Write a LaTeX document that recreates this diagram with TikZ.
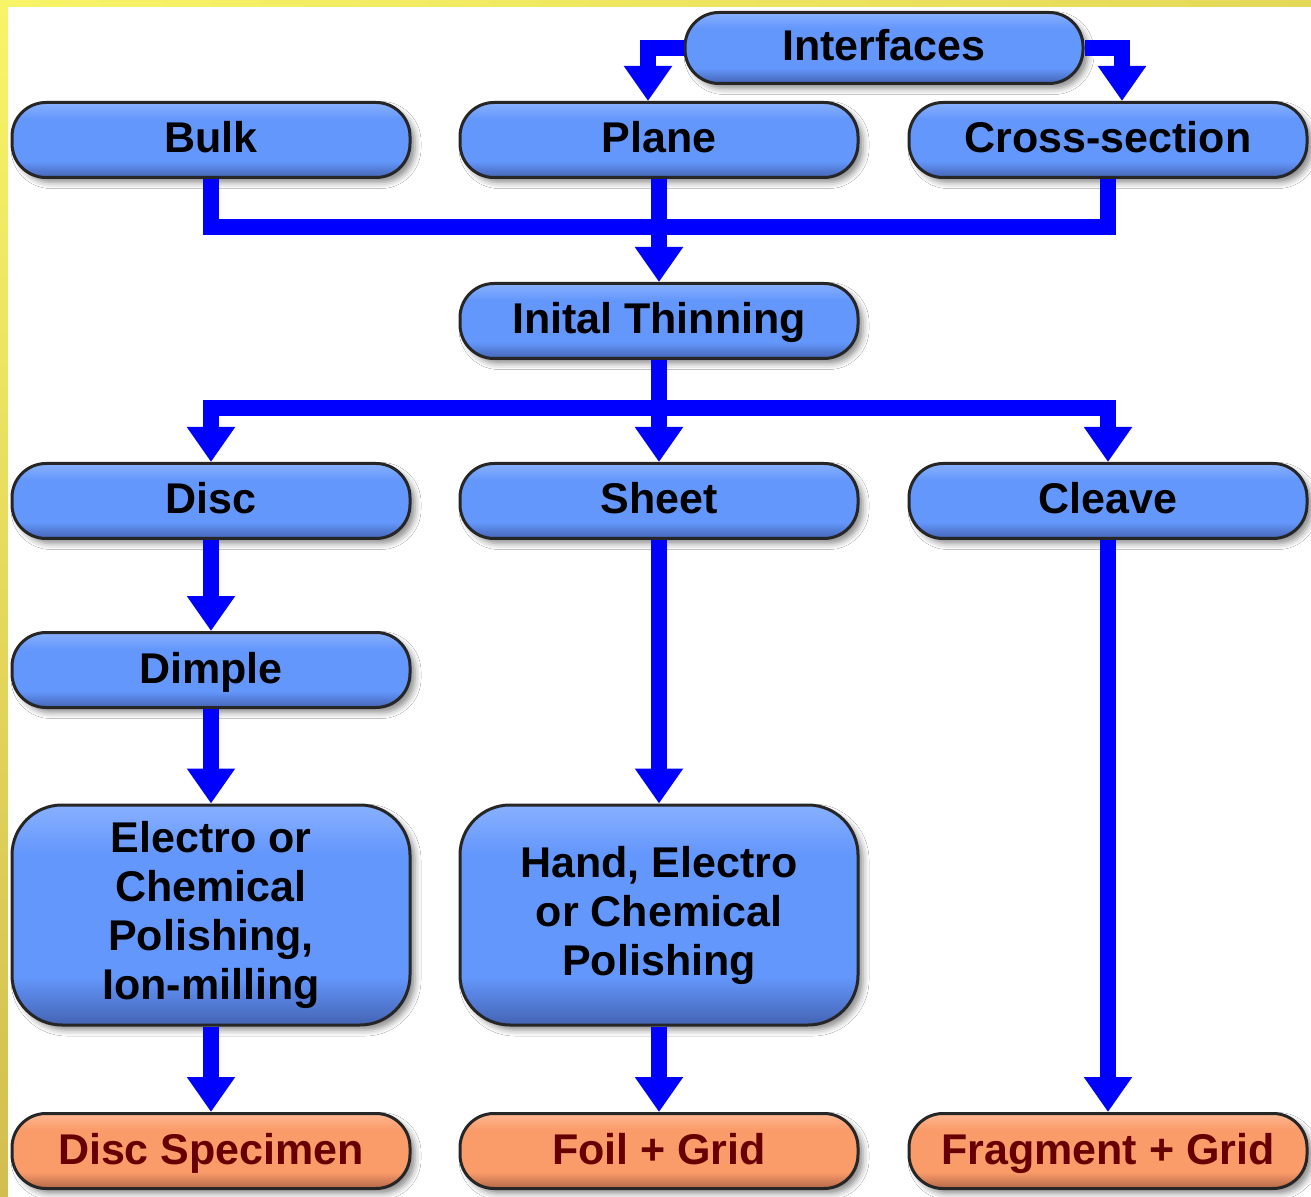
\documentclass[tikz,border=0pt]{standalone}
\usepackage{fontspec}
\setmainfont{Liberation Sans}
\usetikzlibrary{arrows.meta,shadows.blur}
\definecolor{lineblue}{HTML}{0000FF}
\definecolor{bluetop}{HTML}{88B0FF}
\definecolor{bluemid}{HTML}{6497FC}
\definecolor{bluebot}{HTML}{4464B4}
\definecolor{orgtop}{HTML}{FFB690}
\definecolor{orgmid}{HTML}{FA9B6A}
\definecolor{orgbot}{HTML}{B46848}
\definecolor{orgtext}{HTML}{660000}
\definecolor{yelA}{HTML}{F8F468}
\definecolor{yelB}{HTML}{E4D858}
\definecolor{yelC}{HTML}{D2BE50}
\pgfdeclareverticalshading{bluepill}{100bp}{color(0bp)=(bluebot); color(25bp)=(bluebot); color(36bp)=(bluemid); color(64bp)=(bluemid); color(75bp)=(bluetop); color(100bp)=(bluetop)}
\pgfdeclareverticalshading{orgpill}{100bp}{color(0bp)=(orgbot); color(25bp)=(orgbot); color(36bp)=(orgmid); color(64bp)=(orgmid); color(75bp)=(orgtop); color(100bp)=(orgtop)}
\begin{document}
\begin{tikzpicture}[x=0.5pt,y=-0.5pt,
  pill/.style={draw=black!85, line width=1.5pt, rounded corners=17pt,
    minimum width=199pt, minimum height=37.5pt, inner sep=0pt,
    shading=bluepill, text height=15.5pt, text depth=2.5pt,
    font=\fontsize{21.5}{24.5}\selectfont\bfseries, text=black,
    blur shadow={shadow xshift=2.5pt, shadow yshift=-2.5pt, shadow blur radius=3pt, shadow opacity=45}},
  bigbox/.style={pill, rounded corners=25pt, minimum height=110pt, align=center, text height=, text depth=},
  endpill/.style={pill, shading=orgpill, text=orgtext},
  conn/.style={draw=lineblue, line width=8pt},
  arr/.style={conn, -{Triangle[width=23pt,length=17.5pt]}}]
\useasboundingbox (0,0) rectangle (1311,1197);
% frame
\fill[yelA] (0,0) rectangle (1311,1197);
\shade[left color=yelA, right color=yelB] (0,0) rectangle (1311,7);
\shade[top color=yelA, bottom color=yelC] (0,0) rectangle (8,1197);
\fill[white] (8,7) rectangle (1311,1197);
% nodes
\node[pill, minimum height=35.5pt] (iface) at (884,48) {Interfaces};
\node[pill] (bulk) at (211,140) {Bulk};
\node[pill] (plane) at (659,140) {Plane};
\node[pill] (cross) at (1108,140) {Cross-section};
\node[pill] (thin) at (659,321) {Inital Thinning};
\node[pill] (disc) at (211,501) {Disc};
\node[pill] (sheet) at (659,501) {Sheet};
\node[pill] (cleave) at (1108,501) {Cleave};
\node[pill] (dimple) at (211,670) {Dimple};
\node[bigbox] (electro) at (211,915) {Electro or\\Chemical\\Polishing,\\Ion-milling};
\node[bigbox] (hand) at (659,915) {Hand, Electro\\or Chemical\\Polishing};
\node[endpill] (dspec) at (211,1151) {Disc Specimen};
\node[endpill] (foil) at (659,1151) {Foil + Grid};
\node[endpill] (frag) at (1108,1151) {Fragment + Grid};
% connectors
\coordinate (m1) at (659,227);
\coordinate (m2) at (659,408);
\draw[arr] (iface.west) -| ([xshift=-5.5pt]plane.north);
\draw[arr] (iface.east) -| ([xshift=7pt]cross.north);
\draw[conn] (bulk.south) |- (m1) -| (cross.south);
\draw[arr] (plane.south) -- (thin.north);
\draw[conn] (thin.south) -- (m2);
\draw[arr] (m2) -| (disc.north);
\draw[arr] (m2) -- (sheet.north);
\draw[arr] (m2) -| (cleave.north);
\draw[arr] (disc.south) -- (dimple.north);
\draw[arr] (dimple.south) -- (electro.north);
\draw[arr] (sheet.south) -- (hand.north);
\draw[arr] (electro.south) -- (dspec.north);
\draw[arr] (hand.south) -- (foil.north);
\draw[arr] (cleave.south) -- (frag.north);
\end{tikzpicture}
\end{document}
